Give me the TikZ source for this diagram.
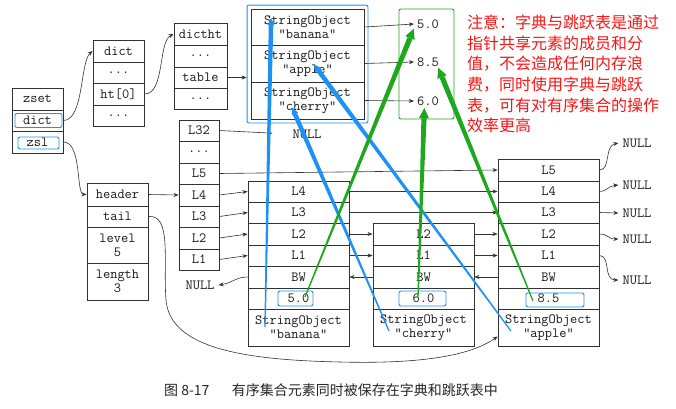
\documentclass[tikz,border=0pt]{standalone}
\usepackage{fontspec}
\newfontfamily\cjk{Noto Sans CJK SC}
\usetikzlibrary{arrows.meta,calc,fit}
\definecolor{ln}{RGB}{50,50,50}
\definecolor{hlblue}{RGB}{30,145,245}
\definecolor{hlgreen}{RGB}{30,168,30}
\definecolor{note}{RGB}{250,20,20}
\newcommand{\taperline}[7]{%
  \fill[#1] ($(#2)!#4!90:(#3)$) -- ($(#3)!#5!-90:(#2)$) -- ($(#3)!#5!90:(#2)$) -- ($(#2)!#4!-90:(#3)$) -- cycle;
  \fill[#1] ($(#3)!#6!-90:(#2)$) -- ($(#3)!-#7!(#2)$) -- ($(#3)!#6!90:(#2)$) -- cycle;
}
\tikzset{
  cell/.style={draw=ln, line width=0.9pt, inner sep=0pt, text=black!90,
    font=\ttfamily\fontsize{14}{14}\selectfont, align=center},
  skc/.style={cell, minimum width=101},
  plain/.style={inner sep=3pt, text=black!90, font=\ttfamily\fontsize{14}{14}\selectfont},
  conn/.style={draw=ln, line width=0.6pt, -{Stealth[length=5pt,width=4pt]}},
  hlbox/.style={draw=hlblue, line width=0.9pt, rounded corners=2pt},
}
\begin{document}
\begin{tikzpicture}[x=1pt,y=-1pt]
\useasboundingbox (0,0) rectangle (676,408);
\fill[white] (0,0) rectangle (676,408);

% zset
\node[cell,minimum width=51,minimum height=22] (zset) at (37.5,99) {zset};
\node[cell,minimum width=51,minimum height=21] (zdict) at (37.5,120.5) {dict};
\node[cell,minimum width=51,minimum height=22] (zzsl) at (37.5,142) {zsl};
\draw[hlbox] (15,113.5) rectangle (62,127.5);
\draw[hlbox] (18,137) rectangle (59,149);

% dict
\node[cell,minimum width=51,minimum height=22] (da) at (118.5,51) {dict};
\node[cell,minimum width=51,minimum height=21] (db) at (118.5,72.5) {...};
\node[cell,minimum width=51,minimum height=22] (dc) at (118.5,94) {ht[0]};
\node[cell,minimum width=51,minimum height=21] (dd) at (118.5,115.5) {...};

% dictht
\node[cell,minimum width=53,minimum height=22] (ta) at (200.5,34) {dictht};
\node[cell,minimum width=53,minimum height=22] (tb) at (200.5,56) {...};
\node[cell,minimum width=53,minimum height=21] (tc) at (200.5,77.5) {table};
\node[cell,minimum width=53,minimum height=21] (td) at (200.5,98.5) {...};

% dict entries
\node[cell,minimum width=113,minimum height=36] (sa) at (307.5,27) {StringObject\\"banana"};
\node[cell,minimum width=113,minimum height=37] (sb) at (307.5,63.5) {StringObject\\"apple"};
\node[cell,minimum width=113,minimum height=37] (sc) at (307.5,100.5) {StringObject\\"cherry"};
\node[hlbox, fit=(sa)(sc), inner sep=3.5pt] (dictbox) {};

% scores in dict
\node[draw=hlgreen, line width=0.9pt, rounded corners=2pt, minimum width=55, minimum height=110] (gbox) at (426.5,64) {};
\node[plain] (va) at (428,24) {5.0};
\node[plain] (vb) at (428,62) {8.5};
\node[plain] (vc) at (428,101) {6.0};

% zskiplist
\node[cell,minimum width=61,minimum height=23] (hh) at (117.5,194.5) {header};
\node[cell,minimum width=61,minimum height=21] (ht) at (117.5,216.5) {tail};
\node[cell,minimum width=61,minimum height=36] (hl) at (117.5,245) {level\\5};
\node[cell,minimum width=61,minimum height=37] (hn) at (117.5,281.5) {length\\3};

% header levels
\node[cell,minimum width=40,minimum height=21] (l32) at (199,130.5) {L32};
\node[cell,minimum width=40,minimum height=22] (ldots) at (199,152) {...};
\node[cell,minimum width=40,minimum height=21] (l5) at (199,173.5) {L5};
\node[cell,minimum width=40,minimum height=22] (l4) at (199,195) {L4};
\node[cell,minimum width=40,minimum height=21] (l3) at (199,216.5) {L3};
\node[cell,minimum width=40,minimum height=22] (l2) at (199,238) {L2};
\node[cell,minimum width=40,minimum height=21] (l1) at (199,259.5) {L1};

% node 1 (banana)
\node[skc,minimum height=21] (n1a) at (298.5,191.5) {L4};
\node[skc,minimum height=21] (n1b) at (298.5,212.5) {L3};
\node[skc,minimum height=22] (n1c) at (298.5,234) {L2};
\node[skc,minimum height=21] (n1d) at (298.5,255.5) {L1};
\node[skc,minimum height=22] (n1bw) at (298.5,277) {BW};
\node[skc,minimum height=21] (n1s) at (298.5,298.5) {5.0};
\node[skc,minimum height=37] (n1o) at (298.5,327.5) {StringObject\\"banana"};
\draw[hlbox] (278,291) rectangle (313,306);

% node 2 (cherry)
\node[skc,minimum height=22] (n2c) at (423.5,234) {L2};
\node[skc,minimum height=21] (n2d) at (423.5,255.5) {L1};
\node[skc,minimum height=22] (n2bw) at (423.5,277) {BW};
\node[skc,minimum height=21] (n2s) at (423.5,298.5) {6.0};
\node[skc,minimum height=37] (n2o) at (423.5,327.5) {StringObject\\"cherry"};
\draw[hlbox] (399,291) rectangle (446,306);

% node 3 (apple)
\node[skc,minimum height=22] (n3e) at (548.5,170) {L5};
\node[skc,minimum height=21] (n3a) at (548.5,191.5) {L4};
\node[skc,minimum height=21] (n3b) at (548.5,212.5) {L3};
\node[skc,minimum height=22] (n3c) at (548.5,234) {L2};
\node[skc,minimum height=21] (n3d) at (548.5,255.5) {L1};
\node[skc,minimum height=22] (n3bw) at (548.5,277) {BW};
\node[skc,minimum height=21] (n3s) at (548.5,298.5) {8.5};
\node[skc,minimum height=37] (n3o) at (548.5,327.5) {StringObject\\"apple"};
\draw[hlbox] (526,293) rectangle (584,307);

% NULL labels
\node[plain,inner sep=4pt] (nl32) at (307,134) {NULL};
\node[plain,inner sep=4pt] (nbw) at (200,285) {NULL};
\node[plain,inner sep=4pt] (nr5) at (637,143) {NULL};
\node[plain,inner sep=4pt] (nr4) at (637,185) {NULL};
\node[plain,inner sep=4pt] (nr3) at (637,213) {NULL};
\node[plain,inner sep=4pt] (nr2) at (637,239) {NULL};
\node[plain,inner sep=4pt] (nr1) at (637,280) {NULL};

% connectors
\draw[conn] (zdict.east) .. controls (84,120) and (80,62) .. (da.west);
\draw[conn] (dc.east) .. controls (165,94) and (158,42) .. (ta.west);
\draw[conn] (tc.east) -- (tc.east -| dictbox.west);
\draw[conn] (sa.east) -- (va.west);
\draw[conn] (sb.east) -- (vb.west);
\draw[conn] (sc.east) -- (vc.west);
\draw[conn] (zzsl.east) .. controls (82,142) and (76,194) .. (hh.west);
\draw[conn] (hh.east) -- (l4.west);
\draw[conn, shorten >=16pt] (l32.east) -- (nl32.west);
\draw[conn] (l5.east) -- (n3e.west);
\draw[conn] (l4.east) -- (n1a.west);
\draw[conn] (l3.east) -- (n1b.west);
\draw[conn] (l2.east) -- (n1c.west);
\draw[conn] (l1.east) -- (n1d.west);
\draw[conn] (n1a.east) -- (n3a.west);
\draw[conn] (n1b.east) -- (n3b.west);
\draw[conn] (n1c.east) -- (n2c.west);
\draw[conn] (n1d.east) -- (n2d.west);
\draw[conn] (n2c.east) -- (n3c.west);
\draw[conn] (n2d.east) -- (n3d.west);
\draw[conn] (n1bw.west) .. controls (236,277) and (232,283) .. (nbw.east);
\draw[conn] (n2bw.west) -- (n1bw.east);
\draw[conn] (n3bw.west) -- (n2bw.east);
\draw[conn] (n3e.east) .. controls (611,170) and (604,146) .. (nr5.west);
\draw[conn] (n3a.east) .. controls (606,192) and (608,186) .. (nr4.west);
\draw[conn] (n3b.east) -- (nr3.west);
\draw[conn] (n3c.east) .. controls (608,234) and (608,239) .. (nr2.west);
\draw[conn] (n3d.east) .. controls (611,256) and (603,280) .. (nr1.west);
\draw[conn] (ht.east) .. controls (172,214) and (163,262) .. (166,300)
  .. controls (170,350) and (250,360) .. (340,362)
  .. controls (420,364) and (470,356) .. (n3o.190);

% shared-pointer highlights
\coordinate (b1s) at (265,327); \coordinate (b1e) at (271,25);
\coordinate (b2s) at (389,331); \coordinate (b2e) at (295,114);
\coordinate (b3s) at (511,331); \coordinate (b3e) at (318,70);
\coordinate (g1s) at (305,297); \coordinate (g1e) at (410,38);
\coordinate (g2s) at (418,298); \coordinate (g2e) at (424,118);
\coordinate (g3s) at (533,301); \coordinate (g3e) at (442,77);
\taperline{hlblue}{b1s}{b1e}{0.6pt}{2.3pt}{3.5pt}{7pt}
\taperline{hlblue}{b2s}{b2e}{0.6pt}{2.3pt}{3.5pt}{7pt}
\taperline{hlblue}{b3s}{b3e}{0.6pt}{2.3pt}{3.5pt}{7pt}
\taperline{hlgreen}{g1s}{g1e}{0.6pt}{2.6pt}{5pt}{10pt}
\taperline{hlgreen}{g2s}{g2e}{0.6pt}{2.6pt}{5pt}{10pt}
\taperline{hlgreen}{g3s}{g3e}{0.6pt}{2.6pt}{5pt}{10pt}

% note and caption
\node[anchor=north west, inner sep=0pt, text=note, align=left,
  font=\cjk\fontsize{16}{20.6}\selectfont] (notetext) at (467,15)
  {注意：字典与跳跃表是通过\\指针共享元素的成员和分\\值，不会造成任何内存浪\\费，同时使用字典与跳跃\\表，可有对有序集合的操作\\效率更高};
\node[inner sep=0pt, text=black!85, font=\cjk\fontsize{14}{14}\selectfont] (caption) at (331,390)
  {图 8-17\hspace{1.6em}有序集合元素同时被保存在字典和跳跃表中};
\end{tikzpicture}
\end{document}
